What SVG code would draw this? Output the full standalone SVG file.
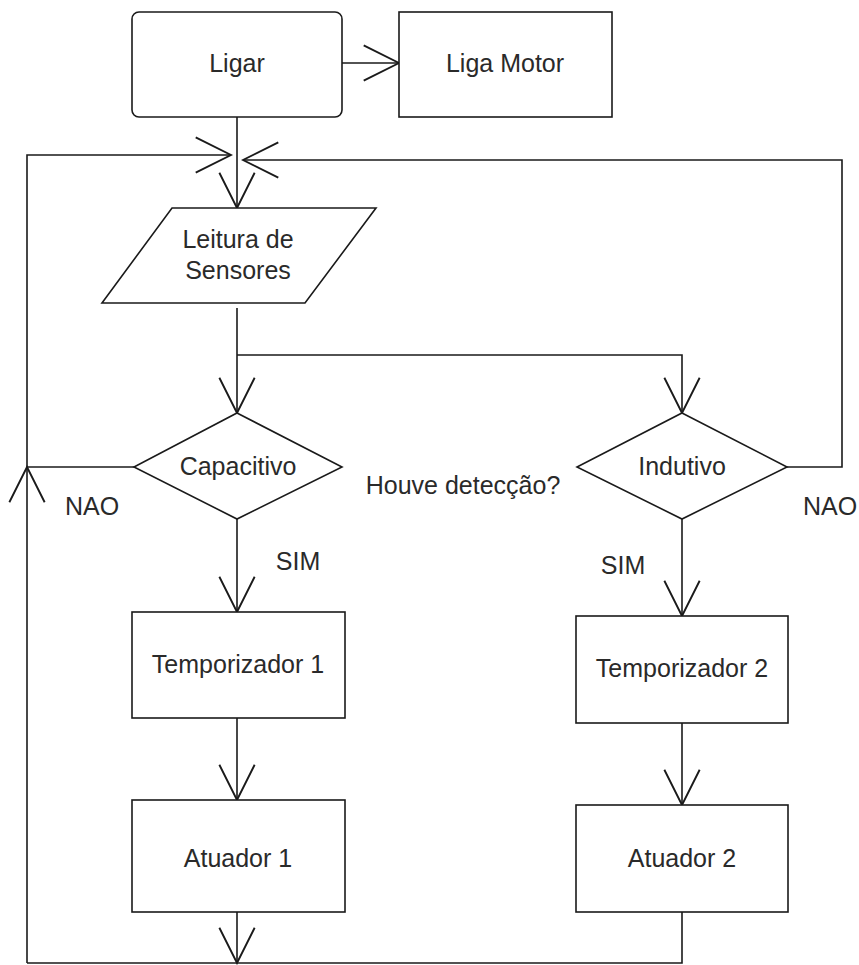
<svg xmlns="http://www.w3.org/2000/svg" width="859" height="965" viewBox="0 0 859 965">
<style>
.n{fill:#fff;stroke:#1a1a1a;stroke-width:1.6}
.c{fill:none;stroke:#1a1a1a;stroke-width:1.6}
.t{font-family:"Liberation Sans",Arial,sans-serif;font-size:25px;fill:#2a2a2a;text-anchor:middle}
</style>
<defs>
<marker id="a" markerUnits="userSpaceOnUse" markerWidth="40" markerHeight="40" viewBox="-32 -17 34 34" refX="0" refY="0" orient="auto">
<path d="M-30,-15 L0,0 L-30,15" fill="none" stroke="#1a1a1a" stroke-width="1.6"/>
</marker>
</defs>
<rect width="859" height="965" fill="#fff"/>
<g id="connectors">
<path class="c" d="M342,63 H399" marker-end="url(#a)"/>
<path class="c" d="M237,117 V208" marker-end="url(#a)"/>
<path class="c" d="M27,467 V155 H231" marker-end="url(#a)"/>
<path class="c" d="M787,467 H842 V160 H243" marker-end="url(#a)"/>
<path class="c" d="M237,308 V413" marker-end="url(#a)"/>
<path class="c" d="M237,355 H682 V413" marker-end="url(#a)"/>
<path class="c" d="M134,467 H27"/>
<path class="c" d="M27,963 V467" marker-end="url(#a)"/>
<path class="c" d="M237,519 V612" marker-end="url(#a)"/>
<path class="c" d="M682,519 V616" marker-end="url(#a)"/>
<path class="c" d="M237,718 V800" marker-end="url(#a)"/>
<path class="c" d="M682,723 V805" marker-end="url(#a)"/>
<path class="c" d="M682,912 V963 H27"/>
<path class="c" d="M237,912 V963" marker-end="url(#a)"/>
</g>
<g id="ligar"><rect class="n" x="132" y="12" width="210" height="105" rx="7"/><text class="t" x="237" y="72">Ligar</text></g>
<g id="ligamotor"><rect class="n" x="399" y="12" width="213" height="105"/><text class="t" x="505" y="72">Liga Motor</text></g>
<g id="leitura"><polygon class="n" points="172,208 376,208 305,303 102,303"/><text class="t" x="238" y="248">Leitura de</text><text class="t" x="238" y="279">Sensores</text></g>
<g id="capacitivo"><polygon class="n" points="237,413 342,467 237,519 134,467"/><text class="t" x="238" y="475">Capacitivo</text></g>
<g id="indutivo"><polygon class="n" points="682,413 787,467 682,519 577,467"/><text class="t" x="682" y="475">Indutivo</text></g>
<g id="temp1"><rect class="n" x="132" y="612" width="213" height="106"/><text class="t" x="238" y="673">Temporizador 1</text></g>
<g id="temp2"><rect class="n" x="576" y="616" width="212" height="107"/><text class="t" x="682" y="677">Temporizador 2</text></g>
<g id="atuador1"><rect class="n" x="132" y="800" width="213" height="112"/><text class="t" x="238" y="867">Atuador 1</text></g>
<g id="atuador2"><rect class="n" x="576" y="805" width="212" height="107"/><text class="t" x="682" y="867">Atuador 2</text></g>
<g id="labels">
<text class="t" x="92" y="515">NAO</text>
<text class="t" x="298" y="570">SIM</text>
<text class="t" x="463" y="494">Houve detecção?</text>
<text class="t" x="623" y="574">SIM</text>
<text class="t" x="830" y="515">NAO</text>
</g>
</svg>
